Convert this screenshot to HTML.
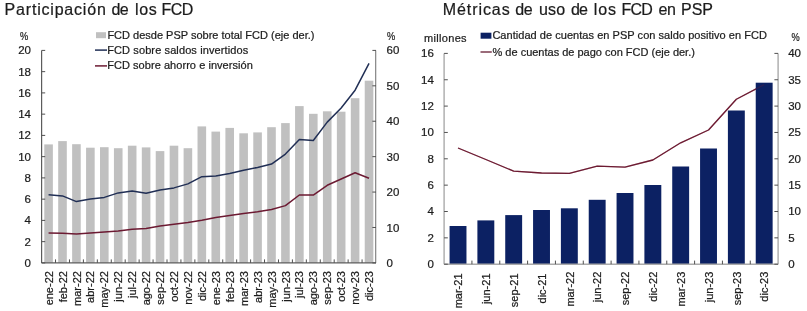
<!DOCTYPE html>
<html><head><meta charset="utf-8"><style>
html,body{margin:0;padding:0;background:#fff;}
svg{display:block;will-change:transform;}
text{font-family:"Liberation Sans", sans-serif;fill:#1c1c1c;stroke:#1c1c1c;stroke-width:0.22px;}
</style></head><body>
<svg width="807" height="311" viewBox="0 0 807 311">
<rect x="0" y="0" width="807" height="311" fill="#fff"/>

<rect x="44.27" y="144.40" width="8.6" height="118.50" fill="#c0c0c0"/>
<rect x="58.20" y="141.10" width="8.6" height="121.80" fill="#c0c0c0"/>
<rect x="72.13" y="144.20" width="8.6" height="118.70" fill="#c0c0c0"/>
<rect x="86.07" y="147.70" width="8.6" height="115.20" fill="#c0c0c0"/>
<rect x="100.00" y="147.20" width="8.6" height="115.70" fill="#c0c0c0"/>
<rect x="113.93" y="148.20" width="8.6" height="114.70" fill="#c0c0c0"/>
<rect x="127.87" y="145.70" width="8.6" height="117.20" fill="#c0c0c0"/>
<rect x="141.80" y="147.40" width="8.6" height="115.50" fill="#c0c0c0"/>
<rect x="155.73" y="151.10" width="8.6" height="111.80" fill="#c0c0c0"/>
<rect x="169.67" y="145.70" width="8.6" height="117.20" fill="#c0c0c0"/>
<rect x="183.60" y="148.20" width="8.6" height="114.70" fill="#c0c0c0"/>
<rect x="197.53" y="126.40" width="8.6" height="136.50" fill="#c0c0c0"/>
<rect x="211.47" y="131.60" width="8.6" height="131.30" fill="#c0c0c0"/>
<rect x="225.40" y="127.90" width="8.6" height="135.00" fill="#c0c0c0"/>
<rect x="239.33" y="133.30" width="8.6" height="129.60" fill="#c0c0c0"/>
<rect x="253.27" y="132.40" width="8.6" height="130.50" fill="#c0c0c0"/>
<rect x="267.20" y="127.20" width="8.6" height="135.70" fill="#c0c0c0"/>
<rect x="281.13" y="123.10" width="8.6" height="139.80" fill="#c0c0c0"/>
<rect x="295.07" y="106.10" width="8.6" height="156.80" fill="#c0c0c0"/>
<rect x="309.00" y="113.80" width="8.6" height="149.10" fill="#c0c0c0"/>
<rect x="322.93" y="111.30" width="8.6" height="151.60" fill="#c0c0c0"/>
<rect x="336.87" y="111.70" width="8.6" height="151.20" fill="#c0c0c0"/>
<rect x="350.80" y="98.20" width="8.6" height="164.70" fill="#c0c0c0"/>
<rect x="364.73" y="80.70" width="8.6" height="182.20" fill="#c0c0c0"/>
<polyline points="48.57,232.90 62.50,233.30 76.43,234.10 90.37,233.10 104.30,232.10 118.23,230.90 132.17,229.20 146.10,228.60 160.03,226.00 173.97,224.30 187.90,222.60 201.83,220.30 215.77,217.60 229.70,215.60 243.63,213.50 257.57,211.80 271.50,209.50 285.43,205.60 299.37,195.00 313.30,195.10 327.23,185.30 341.17,179.00 355.10,172.80 369.03,178.30" fill="none" stroke="#6c1a32" stroke-width="1.5" stroke-linejoin="round"/>
<polyline points="48.57,194.70 62.50,195.90 76.43,201.60 90.37,199.10 104.30,197.40 118.23,192.90 132.17,191.10 146.10,193.30 160.03,190.10 173.97,187.90 187.90,183.90 201.83,176.70 215.77,176.00 229.70,173.50 243.63,170.20 257.57,167.40 271.50,164.10 285.43,154.10 299.37,139.60 313.30,140.50 327.23,122.10 341.17,108.00 355.10,90.20 369.03,63.30" fill="none" stroke="#212f55" stroke-width="1.5" stroke-linejoin="round"/>
<line x1="41.6" y1="50.4" x2="41.6" y2="262.9" stroke="#5c5c5c" stroke-width="1.2"/>
<line x1="375.70" y1="50.4" x2="375.70" y2="262.9" stroke="#7a7a7a" stroke-width="1.1"/>
<line x1="41.6" y1="262.9" x2="376.0" y2="262.9" stroke="#5c5c5c" stroke-width="1.2"/>
<line x1="41.6" y1="262.90" x2="45.20" y2="262.90" stroke="#505050" stroke-width="1"/>
<text x="31.00" y="266.95" font-size="11.5" text-anchor="end" >0</text>
<line x1="41.6" y1="241.65" x2="45.20" y2="241.65" stroke="#505050" stroke-width="1"/>
<text x="31.00" y="245.70" font-size="11.5" text-anchor="end" >2</text>
<line x1="41.6" y1="220.40" x2="45.20" y2="220.40" stroke="#505050" stroke-width="1"/>
<text x="31.00" y="224.45" font-size="11.5" text-anchor="end" >4</text>
<line x1="41.6" y1="199.15" x2="45.20" y2="199.15" stroke="#505050" stroke-width="1"/>
<text x="31.00" y="203.20" font-size="11.5" text-anchor="end" >6</text>
<line x1="41.6" y1="177.90" x2="45.20" y2="177.90" stroke="#505050" stroke-width="1"/>
<text x="31.00" y="181.95" font-size="11.5" text-anchor="end" >8</text>
<line x1="41.6" y1="156.65" x2="45.20" y2="156.65" stroke="#505050" stroke-width="1"/>
<text x="31.00" y="160.70" font-size="11.5" text-anchor="end" >10</text>
<line x1="41.6" y1="135.40" x2="45.20" y2="135.40" stroke="#505050" stroke-width="1"/>
<text x="31.00" y="139.45" font-size="11.5" text-anchor="end" >12</text>
<line x1="41.6" y1="114.15" x2="45.20" y2="114.15" stroke="#505050" stroke-width="1"/>
<text x="31.00" y="118.20" font-size="11.5" text-anchor="end" >14</text>
<line x1="41.6" y1="92.90" x2="45.20" y2="92.90" stroke="#505050" stroke-width="1"/>
<text x="31.00" y="96.95" font-size="11.5" text-anchor="end" >16</text>
<line x1="41.6" y1="71.65" x2="45.20" y2="71.65" stroke="#505050" stroke-width="1"/>
<text x="31.00" y="75.70" font-size="11.5" text-anchor="end" >18</text>
<line x1="41.6" y1="50.40" x2="45.20" y2="50.40" stroke="#505050" stroke-width="1"/>
<text x="31.00" y="54.45" font-size="11.5" text-anchor="end" >20</text>
<line x1="372.40" y1="262.90" x2="376.0" y2="262.90" stroke="#505050" stroke-width="1"/>
<text x="386.60" y="266.95" font-size="11.5" text-anchor="start" >0</text>
<line x1="372.40" y1="227.48" x2="376.0" y2="227.48" stroke="#505050" stroke-width="1"/>
<text x="386.60" y="231.53" font-size="11.5" text-anchor="start" >10</text>
<line x1="372.40" y1="192.07" x2="376.0" y2="192.07" stroke="#505050" stroke-width="1"/>
<text x="386.60" y="196.12" font-size="11.5" text-anchor="start" >20</text>
<line x1="372.40" y1="156.65" x2="376.0" y2="156.65" stroke="#505050" stroke-width="1"/>
<text x="386.60" y="160.70" font-size="11.5" text-anchor="start" >30</text>
<line x1="372.40" y1="121.23" x2="376.0" y2="121.23" stroke="#505050" stroke-width="1"/>
<text x="386.60" y="125.28" font-size="11.5" text-anchor="start" >40</text>
<line x1="372.40" y1="85.82" x2="376.0" y2="85.82" stroke="#505050" stroke-width="1"/>
<text x="386.60" y="89.87" font-size="11.5" text-anchor="start" >50</text>
<line x1="372.40" y1="50.40" x2="376.0" y2="50.40" stroke="#505050" stroke-width="1"/>
<text x="386.60" y="54.45" font-size="11.5" text-anchor="start" >60</text>
<line x1="55.53" y1="259.4" x2="55.53" y2="262.9" stroke="#505050" stroke-width="1"/>
<line x1="69.47" y1="259.4" x2="69.47" y2="262.9" stroke="#505050" stroke-width="1"/>
<line x1="83.40" y1="259.4" x2="83.40" y2="262.9" stroke="#505050" stroke-width="1"/>
<line x1="97.33" y1="259.4" x2="97.33" y2="262.9" stroke="#505050" stroke-width="1"/>
<line x1="111.27" y1="259.4" x2="111.27" y2="262.9" stroke="#505050" stroke-width="1"/>
<line x1="125.20" y1="259.4" x2="125.20" y2="262.9" stroke="#505050" stroke-width="1"/>
<line x1="139.13" y1="259.4" x2="139.13" y2="262.9" stroke="#505050" stroke-width="1"/>
<line x1="153.07" y1="259.4" x2="153.07" y2="262.9" stroke="#505050" stroke-width="1"/>
<line x1="167.00" y1="259.4" x2="167.00" y2="262.9" stroke="#505050" stroke-width="1"/>
<line x1="180.93" y1="259.4" x2="180.93" y2="262.9" stroke="#505050" stroke-width="1"/>
<line x1="194.87" y1="259.4" x2="194.87" y2="262.9" stroke="#505050" stroke-width="1"/>
<line x1="208.80" y1="259.4" x2="208.80" y2="262.9" stroke="#505050" stroke-width="1"/>
<line x1="222.73" y1="259.4" x2="222.73" y2="262.9" stroke="#505050" stroke-width="1"/>
<line x1="236.67" y1="259.4" x2="236.67" y2="262.9" stroke="#505050" stroke-width="1"/>
<line x1="250.60" y1="259.4" x2="250.60" y2="262.9" stroke="#505050" stroke-width="1"/>
<line x1="264.53" y1="259.4" x2="264.53" y2="262.9" stroke="#505050" stroke-width="1"/>
<line x1="278.47" y1="259.4" x2="278.47" y2="262.9" stroke="#505050" stroke-width="1"/>
<line x1="292.40" y1="259.4" x2="292.40" y2="262.9" stroke="#505050" stroke-width="1"/>
<line x1="306.33" y1="259.4" x2="306.33" y2="262.9" stroke="#505050" stroke-width="1"/>
<line x1="320.27" y1="259.4" x2="320.27" y2="262.9" stroke="#505050" stroke-width="1"/>
<line x1="334.20" y1="259.4" x2="334.20" y2="262.9" stroke="#505050" stroke-width="1"/>
<line x1="348.13" y1="259.4" x2="348.13" y2="262.9" stroke="#505050" stroke-width="1"/>
<line x1="362.07" y1="259.4" x2="362.07" y2="262.9" stroke="#505050" stroke-width="1"/>
<text x="0.00" y="0.00" font-size="11" text-anchor="end" transform="translate(52.67,271.10) rotate(-90)">ene-22</text>
<text x="0.00" y="0.00" font-size="11" text-anchor="end" transform="translate(66.60,271.10) rotate(-90)">feb-22</text>
<text x="0.00" y="0.00" font-size="11" text-anchor="end" transform="translate(80.53,271.10) rotate(-90)">mar-22</text>
<text x="0.00" y="0.00" font-size="11" text-anchor="end" transform="translate(94.47,271.10) rotate(-90)">abr-22</text>
<text x="0.00" y="0.00" font-size="11" text-anchor="end" transform="translate(108.40,271.10) rotate(-90)">may-22</text>
<text x="0.00" y="0.00" font-size="11" text-anchor="end" transform="translate(122.33,271.10) rotate(-90)">jun-22</text>
<text x="0.00" y="0.00" font-size="11" text-anchor="end" transform="translate(136.27,271.10) rotate(-90)">jul-22</text>
<text x="0.00" y="0.00" font-size="11" text-anchor="end" transform="translate(150.20,271.10) rotate(-90)">ago-22</text>
<text x="0.00" y="0.00" font-size="11" text-anchor="end" transform="translate(164.13,271.10) rotate(-90)">sep-22</text>
<text x="0.00" y="0.00" font-size="11" text-anchor="end" transform="translate(178.07,271.10) rotate(-90)">oct-22</text>
<text x="0.00" y="0.00" font-size="11" text-anchor="end" transform="translate(192.00,271.10) rotate(-90)">nov-22</text>
<text x="0.00" y="0.00" font-size="11" text-anchor="end" transform="translate(205.93,271.10) rotate(-90)">dic-22</text>
<text x="0.00" y="0.00" font-size="11" text-anchor="end" transform="translate(219.87,271.10) rotate(-90)">ene-23</text>
<text x="0.00" y="0.00" font-size="11" text-anchor="end" transform="translate(233.80,271.10) rotate(-90)">feb-23</text>
<text x="0.00" y="0.00" font-size="11" text-anchor="end" transform="translate(247.73,271.10) rotate(-90)">mar-23</text>
<text x="0.00" y="0.00" font-size="11" text-anchor="end" transform="translate(261.67,271.10) rotate(-90)">abr-23</text>
<text x="0.00" y="0.00" font-size="11" text-anchor="end" transform="translate(275.60,271.10) rotate(-90)">may-23</text>
<text x="0.00" y="0.00" font-size="11" text-anchor="end" transform="translate(289.53,271.10) rotate(-90)">jun-23</text>
<text x="0.00" y="0.00" font-size="11" text-anchor="end" transform="translate(303.47,271.10) rotate(-90)">jul-23</text>
<text x="0.00" y="0.00" font-size="11" text-anchor="end" transform="translate(317.40,271.10) rotate(-90)">ago-23</text>
<text x="0.00" y="0.00" font-size="11" text-anchor="end" transform="translate(331.33,271.10) rotate(-90)">sep-23</text>
<text x="0.00" y="0.00" font-size="11" text-anchor="end" transform="translate(345.27,271.10) rotate(-90)">oct-23</text>
<text x="0.00" y="0.00" font-size="11" text-anchor="end" transform="translate(359.20,271.10) rotate(-90)">nov-23</text>
<text x="0.00" y="0.00" font-size="11" text-anchor="end" transform="translate(373.13,271.10) rotate(-90)">dic-23</text>
<text x="20.00" y="40.00" font-size="11" text-anchor="start" textLength="8.2" lengthAdjust="spacingAndGlyphs">%</text>
<text x="386.90" y="40.00" font-size="11" text-anchor="start" textLength="8.2" lengthAdjust="spacingAndGlyphs">%</text>
<rect x="96" y="32.2" width="10" height="6" fill="#c0c0c0"/>
<line x1="95.0" y1="50.1" x2="107" y2="50.1" stroke="#212f55" stroke-width="1.5"/>
<line x1="95.0" y1="65.9" x2="107" y2="65.9" stroke="#6c1a32" stroke-width="1.5"/>
<text x="107.40" y="38.50" font-size="11" text-anchor="start" >FCD desde PSP sobre total FCD (eje der.)</text>
<text x="107.20" y="53.60" font-size="11" text-anchor="start" letter-spacing="0.11">FCD sobre saldos invertidos</text>
<text x="107.20" y="68.80" font-size="11" text-anchor="start" letter-spacing="0.05">FCD sobre ahorro e inversión</text>
<text x="4.60" y="15.00" font-size="16" text-anchor="start" fill="#1a1a1a" textLength="101.21">Participación</text>
<text x="111.60" y="15.00" font-size="16" text-anchor="start" fill="#1a1a1a" textLength="17.10">de</text>
<text x="134.90" y="15.00" font-size="16" text-anchor="start" fill="#1a1a1a" textLength="21.95">los</text>
<text x="161.60" y="15.00" font-size="16" text-anchor="start" fill="#1a1a1a" textLength="31.59">FCD</text>
<polyline points="458.02,148.00 485.85,159.50 513.68,171.20 541.52,173.00 569.35,173.30 597.18,166.10 625.02,167.20 652.85,160.00 680.68,142.80 708.52,130.00 736.35,99.30 764.18,84.60" fill="none" stroke="#6e1c33" stroke-width="1.3" stroke-linejoin="round"/>
<rect x="449.57" y="226.00" width="16.9" height="38.20" fill="#0c2163"/>
<rect x="477.40" y="220.40" width="16.9" height="43.80" fill="#0c2163"/>
<rect x="505.23" y="215.10" width="16.9" height="49.10" fill="#0c2163"/>
<rect x="533.07" y="210.00" width="16.9" height="54.20" fill="#0c2163"/>
<rect x="560.90" y="208.30" width="16.9" height="55.90" fill="#0c2163"/>
<rect x="588.73" y="199.80" width="16.9" height="64.40" fill="#0c2163"/>
<rect x="616.57" y="193.00" width="16.9" height="71.20" fill="#0c2163"/>
<rect x="644.40" y="185.00" width="16.9" height="79.20" fill="#0c2163"/>
<rect x="672.23" y="166.50" width="16.9" height="97.70" fill="#0c2163"/>
<rect x="700.07" y="148.50" width="16.9" height="115.70" fill="#0c2163"/>
<rect x="727.90" y="110.50" width="16.9" height="153.70" fill="#0c2163"/>
<rect x="755.73" y="82.70" width="16.9" height="181.50" fill="#0c2163"/>
<polyline points="458.02,148.00 485.85,159.50 513.68,171.20 541.52,173.00 569.35,173.30 597.18,166.10 625.02,167.20 652.85,160.00 680.68,142.80 708.52,130.00 736.35,99.30 764.18,84.60" fill="none" stroke="#6e1c33" stroke-width="1.3" stroke-linejoin="round" opacity="0.3"/>
<line x1="444.1" y1="53.4" x2="444.1" y2="264.2" stroke="#aaaaaa" stroke-width="1.4"/>
<line x1="778.1" y1="53.4" x2="778.1" y2="264.2" stroke="#aaaaaa" stroke-width="1.4"/>
<line x1="444.1" y1="264.2" x2="778.1" y2="264.2" stroke="#aaaaaa" stroke-width="1.4"/>
<line x1="444.1" y1="264.20" x2="447.80" y2="264.20" stroke="#505050" stroke-width="1"/>
<text x="433.80" y="268.10" font-size="11.5" text-anchor="end" >0</text>
<line x1="444.1" y1="237.85" x2="447.80" y2="237.85" stroke="#505050" stroke-width="1"/>
<text x="433.80" y="241.75" font-size="11.5" text-anchor="end" >2</text>
<line x1="444.1" y1="211.50" x2="447.80" y2="211.50" stroke="#505050" stroke-width="1"/>
<text x="433.80" y="215.40" font-size="11.5" text-anchor="end" >4</text>
<line x1="444.1" y1="185.15" x2="447.80" y2="185.15" stroke="#505050" stroke-width="1"/>
<text x="433.80" y="189.05" font-size="11.5" text-anchor="end" >6</text>
<line x1="444.1" y1="158.80" x2="447.80" y2="158.80" stroke="#505050" stroke-width="1"/>
<text x="433.80" y="162.70" font-size="11.5" text-anchor="end" >8</text>
<line x1="444.1" y1="132.45" x2="447.80" y2="132.45" stroke="#505050" stroke-width="1"/>
<text x="433.80" y="136.35" font-size="11.5" text-anchor="end" >10</text>
<line x1="444.1" y1="106.10" x2="447.80" y2="106.10" stroke="#505050" stroke-width="1"/>
<text x="433.80" y="110.00" font-size="11.5" text-anchor="end" >12</text>
<line x1="444.1" y1="79.75" x2="447.80" y2="79.75" stroke="#505050" stroke-width="1"/>
<text x="433.80" y="83.65" font-size="11.5" text-anchor="end" >14</text>
<line x1="444.1" y1="53.40" x2="447.80" y2="53.40" stroke="#505050" stroke-width="1"/>
<text x="433.80" y="57.30" font-size="11.5" text-anchor="end" >16</text>
<line x1="774.40" y1="264.20" x2="778.1" y2="264.20" stroke="#505050" stroke-width="1"/>
<text x="788.20" y="268.10" font-size="11.5" text-anchor="start" >0</text>
<line x1="774.40" y1="237.85" x2="778.1" y2="237.85" stroke="#505050" stroke-width="1"/>
<text x="788.20" y="241.75" font-size="11.5" text-anchor="start" >5</text>
<line x1="774.40" y1="211.50" x2="778.1" y2="211.50" stroke="#505050" stroke-width="1"/>
<text x="788.20" y="215.40" font-size="11.5" text-anchor="start" >10</text>
<line x1="774.40" y1="185.15" x2="778.1" y2="185.15" stroke="#505050" stroke-width="1"/>
<text x="788.20" y="189.05" font-size="11.5" text-anchor="start" >15</text>
<line x1="774.40" y1="158.80" x2="778.1" y2="158.80" stroke="#505050" stroke-width="1"/>
<text x="788.20" y="162.70" font-size="11.5" text-anchor="start" >20</text>
<line x1="774.40" y1="132.45" x2="778.1" y2="132.45" stroke="#505050" stroke-width="1"/>
<text x="788.20" y="136.35" font-size="11.5" text-anchor="start" >25</text>
<line x1="774.40" y1="106.10" x2="778.1" y2="106.10" stroke="#505050" stroke-width="1"/>
<text x="788.20" y="110.00" font-size="11.5" text-anchor="start" >30</text>
<line x1="774.40" y1="79.75" x2="778.1" y2="79.75" stroke="#505050" stroke-width="1"/>
<text x="788.20" y="83.65" font-size="11.5" text-anchor="start" >35</text>
<line x1="774.40" y1="53.40" x2="778.1" y2="53.40" stroke="#505050" stroke-width="1"/>
<text x="788.20" y="57.30" font-size="11.5" text-anchor="start" >40</text>
<line x1="471.93" y1="260.59999999999997" x2="471.93" y2="264.2" stroke="#505050" stroke-width="1"/>
<line x1="499.77" y1="260.59999999999997" x2="499.77" y2="264.2" stroke="#505050" stroke-width="1"/>
<line x1="527.60" y1="260.59999999999997" x2="527.60" y2="264.2" stroke="#505050" stroke-width="1"/>
<line x1="555.43" y1="260.59999999999997" x2="555.43" y2="264.2" stroke="#505050" stroke-width="1"/>
<line x1="583.27" y1="260.59999999999997" x2="583.27" y2="264.2" stroke="#505050" stroke-width="1"/>
<line x1="611.10" y1="260.59999999999997" x2="611.10" y2="264.2" stroke="#505050" stroke-width="1"/>
<line x1="638.93" y1="260.59999999999997" x2="638.93" y2="264.2" stroke="#505050" stroke-width="1"/>
<line x1="666.77" y1="260.59999999999997" x2="666.77" y2="264.2" stroke="#505050" stroke-width="1"/>
<line x1="694.60" y1="260.59999999999997" x2="694.60" y2="264.2" stroke="#505050" stroke-width="1"/>
<line x1="722.43" y1="260.59999999999997" x2="722.43" y2="264.2" stroke="#505050" stroke-width="1"/>
<line x1="750.27" y1="260.59999999999997" x2="750.27" y2="264.2" stroke="#505050" stroke-width="1"/>
<text x="0.00" y="0.00" font-size="11" text-anchor="end" transform="translate(462.22,273.50) rotate(-90)">mar-21</text>
<text x="0.00" y="0.00" font-size="11" text-anchor="end" transform="translate(490.05,273.50) rotate(-90)">jun-21</text>
<text x="0.00" y="0.00" font-size="11" text-anchor="end" transform="translate(517.88,273.50) rotate(-90)">sep-21</text>
<text x="0.00" y="0.00" font-size="11" text-anchor="end" transform="translate(545.72,273.50) rotate(-90)">dic-21</text>
<text x="0.00" y="0.00" font-size="11" text-anchor="end" transform="translate(573.55,271.70) rotate(-90)">mar-22</text>
<text x="0.00" y="0.00" font-size="11" text-anchor="end" transform="translate(601.38,271.70) rotate(-90)">jun-22</text>
<text x="0.00" y="0.00" font-size="11" text-anchor="end" transform="translate(629.22,271.70) rotate(-90)">sep-22</text>
<text x="0.00" y="0.00" font-size="11" text-anchor="end" transform="translate(657.05,271.70) rotate(-90)">dic-22</text>
<text x="0.00" y="0.00" font-size="11" text-anchor="end" transform="translate(684.88,271.70) rotate(-90)">mar-23</text>
<text x="0.00" y="0.00" font-size="11" text-anchor="end" transform="translate(712.72,271.70) rotate(-90)">jun-23</text>
<text x="0.00" y="0.00" font-size="11" text-anchor="end" transform="translate(740.55,271.70) rotate(-90)">sep-23</text>
<text x="0.00" y="0.00" font-size="11" text-anchor="end" transform="translate(768.38,271.70) rotate(-90)">dic-23</text>
<text x="424.00" y="42.30" font-size="11" text-anchor="start" textLength="42.6">millones</text>
<text x="791.60" y="40.60" font-size="11" text-anchor="start" textLength="8.2" lengthAdjust="spacingAndGlyphs">%</text>
<rect x="480.6" y="32.7" width="10.8" height="6" fill="#0c2163"/>
<line x1="480.5" y1="52.0" x2="491.8" y2="52.0" stroke="#7a3a4e" stroke-width="1.5"/>
<text x="492.40" y="38.80" font-size="11" text-anchor="start" letter-spacing="0.04">Cantidad de cuentas en PSP con saldo positivo en FCD</text>
<text x="492.50" y="55.60" font-size="11" text-anchor="start" >% de cuentas de pago con FCD (eje der.)</text>
<text x="442.70" y="15.00" font-size="16" text-anchor="start" fill="#1a1a1a" textLength="66.95">Métricas</text>
<text x="515.20" y="15.00" font-size="16" text-anchor="start" fill="#1a1a1a" textLength="17.50">de</text>
<text x="539.00" y="15.00" font-size="16" text-anchor="start" fill="#1a1a1a" textLength="26.10">uso</text>
<text x="570.90" y="15.00" font-size="16" text-anchor="start" fill="#1a1a1a" textLength="17.10">de</text>
<text x="593.80" y="15.00" font-size="16" text-anchor="start" fill="#1a1a1a" textLength="22.15">los</text>
<text x="621.50" y="15.00" font-size="16" text-anchor="start" fill="#1a1a1a" textLength="31.39">FCD</text>
<text x="658.40" y="15.00" font-size="16" text-anchor="start" fill="#1a1a1a" textLength="17.50">en</text>
<text x="681.00" y="15.00" font-size="16" text-anchor="start" fill="#1a1a1a" textLength="32.02">PSP</text>
</svg></body></html>
